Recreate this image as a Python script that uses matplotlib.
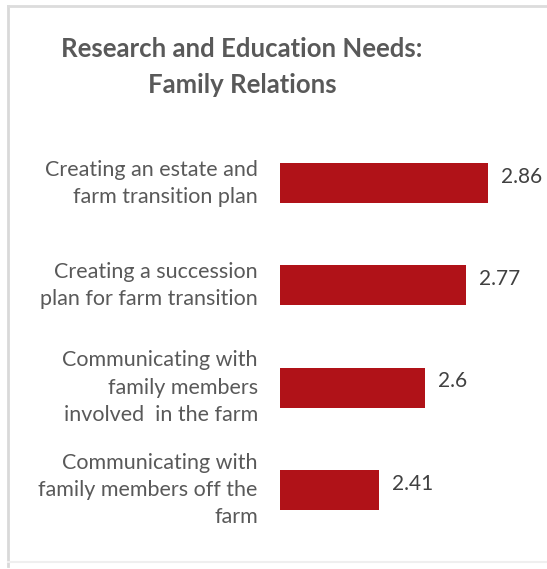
import matplotlib
matplotlib.use("Agg")
import matplotlib.pyplot as plt
from matplotlib.lines import Line2D

categories = [
    "Creating an estate and\nfarm transition plan",
    "Creating a succession\nplan for farm transition",
    "Communicating with\nfamily members\ninvolved  in the farm",
    "Communicating with\nfamily members off the\nfarm",
]
values = [2.86, 2.77, 2.6, 2.41]
value_labels = ["2.86", "2.77", "2.6", "2.41"]
title = "Research and Education Needs:\nFamily Relations"

W, H = 547, 569
fig = plt.figure(figsize=(W / 100, H / 100), dpi=100)
fig.patch.set_facecolor("white")

# outer frame: left, top and a faint bottom edge
fr = fig.transFigure
fig.add_artist(Line2D([7.5 / W, 7.5 / W], [1 - 566 / H, 1 - 6 / H],
                      transform=fr, color="#d9d9d9", lw=2.0))
fig.add_artist(Line2D([7.5 / W, 1.0], [1 - 6 / H, 1 - 6 / H],
                      transform=fr, color="#dcdcdc", lw=2.0))
fig.add_artist(Line2D([7.5 / W, 1.0], [1 - 562 / H, 1 - 562 / H],
                      transform=fr, color="#efefef", lw=1.5))

ax = fig.add_axes([280 / W, 1 - 541 / H, 242 / W, (541 - 132) / H])
ypos = list(range(len(categories)))
ax.barh(ypos, [v - 2.0 for v in values], left=2.0, height=0.39,
        color="#b01218")
ax.set_xlim(2.0, 3.0)
ax.set_ylim(3.5, -0.5)
for s in ax.spines.values():
    s.set_visible(False)
ax.set_xticks([])
ax.set_yticks(ypos)
ax.set_yticklabels(categories, fontfamily="Lato", fontsize=15.5,
                   color="#595959", ha="right", va="center")
for t in ax.get_yticklabels():
    t.set_linespacing(1.45)
ax.tick_params(axis="y", length=0, pad=16)

for y, v, lab in zip(ypos, values, value_labels):
    ax.text(v + 0.052, y - 0.06, lab, fontfamily="Lato", fontsize=15,
            color="#404040", va="center", ha="left")

fig.text(242 / W, 1 - 67 / H, title, fontfamily="Lato", fontweight="bold",
         fontsize=18.5, color="#595959", ha="center", va="center",
         linespacing=1.6)

fig.savefig("out.png", dpi=100, facecolor="white")
